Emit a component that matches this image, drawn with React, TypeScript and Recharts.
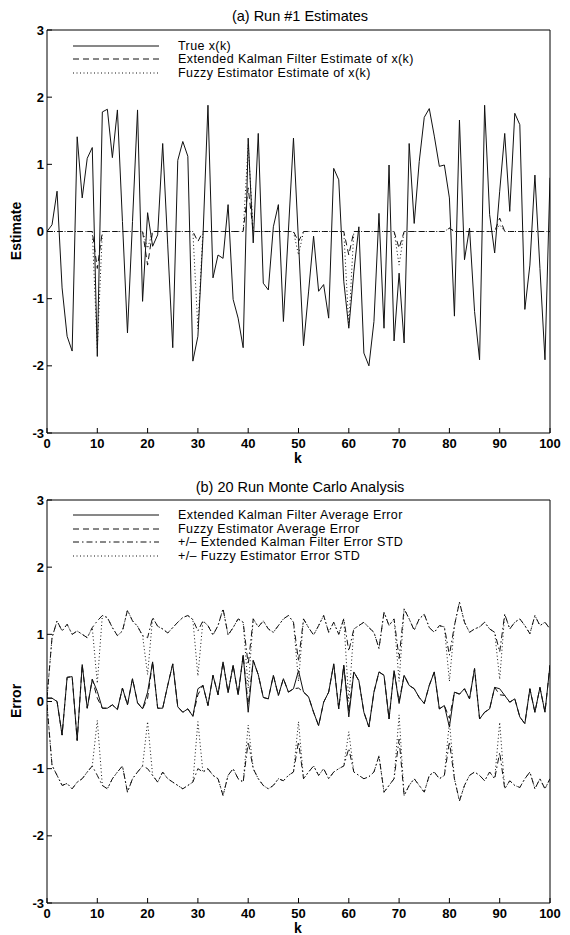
import React from 'react';
import { LineChart, Line, XAxis, YAxis } from 'recharts';

// k axis + y axis ticks
const K_TICKS = [0, 10, 20, 30, 40, 50, 60, 70, 80, 90, 100];
const Y_TICKS = [-3, -2, -1, 0, 1, 2, 3];

// (a) run #1 estimates, k = 0..100
const trueX = [
  0.0, 0.1, 0.6, -0.84, -1.56, -1.78, 1.41, 0.5, 1.09, 1.25,
  -1.86, 1.78, 1.82, 1.1, 1.81, 0.15, -1.51, 0.15, 1.81, -1.04,
  0.28, -0.22, -0.05, 1.31, -0.2, -1.73, 1.06, 1.34, 1.12, -1.93,
  -1.56, -0.1, 1.88, -0.69, -0.35, -0.4, 0.4, -1.01, -1.29, -1.73,
  1.39, -0.17, 1.46, -0.77, -0.87, 0.07, 0.4, -1.34, 0.02, 1.39,
  -0.15, -1.7, -0.9, -0.07, -0.89, -0.79, -1.29, 0.94, 0.77, -0.74,
  -1.44, -0.6, 0.07, -1.81, -2.0, -1.34, 0.27, -1.44, 0.99, -1.63,
  -0.62, -1.66, 1.31, 0.12, 1.04, 1.7, 1.83, 1.42, 0.97, 0.99,
  0.5, -1.26, 1.66, -0.42, 0.05, -1.19, -1.91, 1.88, 0.25, -0.32,
  0.6, 1.46, 0.3, 1.76, 1.59, -1.16, -0.5, 0.84, -0.55, -1.91,
  0.8,
];

const ekfEstimate = [
  0, 0, 0, 0, 0, 0, 0, 0, 0, 0,
  -0.55, 0, 0, 0, 0, 0, 0, 0, 0, 0,
  -0.5, 0, 0, 0, 0, 0, 0, 0, 0, 0,
  -0.15, 0, 0, 0, 0, 0, 0, 0, 0, 0,
  0.65, 0, 0, 0, 0, 0, 0, 0, 0, 0,
  -0.15, 0, 0, 0, 0, 0, 0, 0, 0, 0,
  -0.35, 0, 0, 0, 0, 0, 0, 0, 0, 0,
  -0.25, 0, 0, 0, 0, 0, 0, 0, 0, 0,
  0.05, 0, 0, 0, 0, 0, 0, 0, 0, 0,
  0.2, 0, 0, 0, 0, 0, 0, 0, 0, 0,
  0,
];

const fuzzyEstimate = [
  0, 0, 0, 0, 0, 0, 0, 0, 0, 0,
  -1.75, 0, 0, 0, 0, 0, 0, 0, 0, 0,
  -0.25, 0, 0, 0, 0, 0, 0, 0, 0, 0,
  -1.45, 0, 0, 0, 0, 0, 0, 0, 0, 0,
  1.3, 0, 0, 0, 0, 0, 0, 0, 0, 0,
  -0.35, 0, 0, 0, 0, 0, 0, 0, 0, 0,
  -1.4, 0, 0, 0, 0, 0, 0, 0, 0, 0,
  -0.5, 0, 0, 0, 0, 0, 0, 0, 0, 0,
  0.05, 0, 0, 0, 0, 0, 0, 0, 0, 0,
  0.1, 0, 0, 0, 0, 0, 0, 0, 0, 0,
  0,
];

// (b) 20 run monte carlo analysis
const ekfAvgError = [
  0.05, 0.05, 0.0, -0.5, 0.36, 0.37, -0.58, 0.55, -0.1, 0.33,
  0.15, -0.1, -0.1, -0.05, -0.12, 0.2, -0.05, 0.34, -0.02, -0.11,
  0.14, 0.59, -0.1, -0.1, 0.24, 0.56, -0.08, -0.16, -0.11, -0.22,
  0.19, 0.24, -0.06, 0.39, 0.1, 0.59, 0.13, 0.54, 0.1, 0.69,
  -0.16, 0.61, 0.4, 0.06, 0.04, 0.39, 0.09, 0.34, 0.14, 0.19,
  0.46, 0.14, 0.07, -0.16, -0.36, -0.01, 0.14, 0.56, -0.11, 0.54,
  -0.23, 0.44, 0.31, -0.16, -0.38, 0.14, 0.44, 0.39, -0.26, 0.46,
  -0.03, 0.39, 0.24, 0.19, 0.06, -0.03, 0.24, 0.44, -0.11, -0.06,
  -0.38, 0.14, 0.11, 0.19, 0.04, 0.49, -0.26, -0.16, -0.11, 0.21,
  0.19, 0.09, -0.01, 0.04, -0.23, -0.33, 0.19, -0.16, 0.21, -0.16,
  0.54,
];

const fuzzyAvgError = [
  0.05, 0.05, 0.0, -0.5, 0.36, 0.37, -0.58, 0.55, -0.1, 0.33,
  0.05, -0.1, -0.1, -0.05, -0.12, 0.2, -0.05, 0.34, -0.02, -0.11,
  0.05, 0.59, -0.1, -0.1, 0.24, 0.56, -0.08, -0.16, -0.11, -0.22,
  0.1, 0.24, -0.06, 0.39, 0.1, 0.59, 0.13, 0.54, 0.1, 0.69,
  -0.05, 0.61, 0.4, 0.06, 0.04, 0.39, 0.09, 0.34, 0.14, 0.19,
  0.2, 0.14, 0.07, -0.16, -0.36, -0.01, 0.14, 0.56, -0.11, 0.54,
  -0.15, 0.44, 0.31, -0.16, -0.38, 0.14, 0.44, 0.39, -0.26, 0.46,
  0.0, 0.39, 0.24, 0.19, 0.06, -0.03, 0.24, 0.44, -0.11, -0.06,
  -0.25, 0.14, 0.11, 0.19, 0.04, 0.49, -0.26, -0.16, -0.11, 0.21,
  0.1, 0.09, -0.01, 0.04, -0.23, -0.33, 0.19, -0.16, 0.21, -0.16,
  0.54,
];

const ekfStdUpper = [
  0.05, 0.95, 1.2, 1.05, 1.15, 1.0, 1.05, 1.0, 0.95, 1.1,
  1.2, 1.28, 1.25, 1.1, 0.98, 1.05, 1.36, 1.2, 1.12, 0.98,
  0.95, 1.25, 1.12, 1.08, 1.02, 1.1, 1.18, 1.25, 1.28, 1.22,
  1.05, 1.2, 1.13, 0.99, 1.13, 1.38, 0.99, 1.1, 1.23, 1.18,
  0.55, 1.23, 1.11, 1.2, 1.08, 1.03, 1.13, 1.23, 1.28, 1.18,
  0.6, 1.23, 1.1, 0.99, 1.13, 1.28, 1.03, 1.18, 1.0, 1.23,
  0.75, 1.08, 1.13, 1.18, 1.1, 1.03, 0.79, 1.33, 1.13, 1.23,
  0.64, 1.38, 1.23, 1.06, 1.23, 1.3, 1.1, 1.03, 1.13, 1.11,
  0.69, 1.13, 1.48, 1.18, 1.03, 1.08, 1.11, 1.18, 1.08, 1.03,
  0.74, 1.3, 1.08, 1.18, 1.23, 1.13, 1.01, 1.28, 1.13, 1.18,
  1.08,
];

const ekfStdLower = [
  -0.05, -0.95, -1.1, -1.25, -1.22, -1.3, -1.2, -1.15, -1.05, -0.96,
  -1.1, -1.25, -1.3, -1.15, -1.05, -0.96, -1.35, -1.15, -1.05, -0.96,
  -1.0, -1.1, -1.2, -1.05, -1.15, -1.2, -1.25, -1.3, -1.25, -1.2,
  -1.0, -1.05, -1.0, -1.1, -1.15, -1.4, -1.1, -1.0, -1.15, -1.2,
  -0.6, -1.0, -1.15, -1.25, -1.3, -1.25, -1.15, -1.18, -1.1, -1.05,
  -0.6, -1.15, -1.05, -0.96, -1.1, -1.0, -1.15, -1.05, -1.0, -0.96,
  -0.7, -1.05, -1.1, -1.15, -1.12, -1.05, -0.81, -1.35, -1.25, -1.15,
  -0.56, -1.4, -1.25, -1.15, -1.25, -1.35, -1.1, -1.05, -1.15, -1.1,
  -0.6, -1.15, -1.48, -1.25, -1.1, -1.05, -1.1, -1.18, -1.05, -1.15,
  -0.76, -1.3, -1.18, -1.25, -1.28, -1.15, -1.05, -1.3, -1.15, -1.3,
  -1.15,
];

const fuzzyStdUpper = [
  0.05, 0.95, 1.2, 1.05, 1.15, 1.0, 1.05, 1.0, 0.95, 1.1,
  0.27, 1.28, 1.25, 1.1, 0.98, 1.05, 1.36, 1.2, 1.12, 0.98,
  0.4, 1.25, 1.12, 1.08, 1.02, 1.1, 1.18, 1.25, 1.28, 1.22,
  0.38, 1.2, 1.13, 0.99, 1.13, 1.38, 0.99, 1.1, 1.23, 1.18,
  0.2, 1.23, 1.11, 1.2, 1.08, 1.03, 1.13, 1.23, 1.28, 1.18,
  0.3, 1.23, 1.1, 0.99, 1.13, 1.28, 1.03, 1.18, 1.0, 1.23,
  0.0, 1.08, 1.13, 1.18, 1.1, 1.03, 0.79, 1.33, 1.13, 1.23,
  0.3, 1.38, 1.23, 1.06, 1.23, 1.3, 1.1, 1.03, 1.13, 1.11,
  0.3, 1.13, 1.48, 1.18, 1.03, 1.08, 1.11, 1.18, 1.08, 1.03,
  0.33, 1.3, 1.08, 1.18, 1.23, 1.13, 1.01, 1.28, 1.13, 1.18,
  1.08,
];

const fuzzyStdLower = [
  -0.05, -0.95, -1.1, -1.25, -1.22, -1.3, -1.2, -1.15, -1.05, -0.96,
  -0.28, -1.25, -1.3, -1.15, -1.05, -0.96, -1.35, -1.15, -1.05, -0.96,
  -0.3, -1.1, -1.2, -1.05, -1.15, -1.2, -1.25, -1.3, -1.25, -1.2,
  -0.3, -1.05, -1.0, -1.1, -1.15, -1.4, -1.1, -1.0, -1.15, -1.2,
  -0.35, -1.0, -1.15, -1.25, -1.3, -1.25, -1.15, -1.18, -1.1, -1.05,
  -0.3, -1.15, -1.05, -0.96, -1.1, -1.0, -1.15, -1.05, -1.0, -0.96,
  -0.45, -1.05, -1.1, -1.15, -1.12, -1.05, -0.81, -1.35, -1.25, -1.15,
  -0.2, -1.4, -1.25, -1.15, -1.25, -1.35, -1.1, -1.05, -1.15, -1.1,
  -0.3, -1.15, -1.48, -1.25, -1.1, -1.05, -1.1, -1.18, -1.05, -1.15,
  -0.31, -1.3, -1.18, -1.25, -1.28, -1.15, -1.05, -1.3, -1.15, -1.3,
  -1.15,
];

const FONT = "'Liberation Sans', Arial, Helvetica, sans-serif";
const INK = '#111';
const SOLID = undefined;
const DASHED = '6 4';
const DOTTED = '1 2.5';
const DASHDOT = '6 3 1.5 3';

const runData = trueX.map((v, k) => ({
  k,
  trueX: v,
  ekf: ekfEstimate[k],
  fuzzy: fuzzyEstimate[k],
}));

const mcData = ekfAvgError.map((v, k) => ({
  k,
  ekfAvg: v,
  fuzzyAvg: fuzzyAvgError[k],
  ekfUp: ekfStdUpper[k],
  ekfLo: ekfStdLower[k],
  fuzzyUp: fuzzyStdUpper[k],
  fuzzyLo: fuzzyStdLower[k],
}));

const tickStyle = { fontSize: 13, fill: '#000', fontFamily: FONT, fontWeight: 'bold' };
const lineStroke = { stroke: '#000', strokeWidth: 1 };

/**
 * Box frame: matlab-style inward ticks on all four sides.
 * Plot area is margin + axis size, so both charts use
 * bottom axis 30, top axis 1, left axis 40, right axis 1.
 */
function frameAxes() {
  return [
    <XAxis
      key="xb"
      dataKey="k"
      type="number"
      domain={[0, 100]}
      ticks={K_TICKS}
      interval={0}
      height={30}
      tickSize={-5}
      tickMargin={11}
      axisLine={lineStroke}
      tickLine={lineStroke}
      tick={tickStyle}
      allowDataOverflow
    />,
    <XAxis
      key="xt"
      xAxisId="t"
      orientation="top"
      type="number"
      domain={[0, 100]}
      ticks={K_TICKS}
      interval={0}
      height={1}
      tickSize={-5}
      axisLine={lineStroke}
      tickLine={lineStroke}
      tick={false}
      allowDataOverflow
    />,
    <YAxis
      key="yl"
      type="number"
      domain={[-3, 3]}
      ticks={Y_TICKS}
      interval={0}
      width={40}
      tickSize={-5}
      tickMargin={8}
      axisLine={lineStroke}
      tickLine={lineStroke}
      tick={tickStyle}
      allowDataOverflow
    />,
    <YAxis
      key="yr"
      yAxisId="r"
      orientation="right"
      type="number"
      domain={[-3, 3]}
      ticks={Y_TICKS}
      interval={0}
      width={1}
      tickSize={-5}
      axisLine={lineStroke}
      tickLine={lineStroke}
      tick={false}
      allowDataOverflow
    />,
  ];
}

function series(key: string, dash?: string) {
  return (
    <Line
      key={key}
      type="linear"
      dataKey={key}
      stroke={INK}
      strokeWidth={1}
      strokeDasharray={dash}
      dot={false}
      activeDot={false}
      isAnimationActive={false}
    />
  );
}

function Txt({ x, y, children, size = 12.5, anchor = 'middle', rotate = false, bold = false }: any) {
  const tx = anchor === 'middle' ? '-50%' : '0';
  return (
    <div
      style={{
        position: 'absolute',
        left: x,
        top: y,
        transform: `translate(${tx}, -50%)${rotate ? ' rotate(-90deg)' : ''}`,
        fontFamily: FONT,
        fontSize: size,
        fontWeight: bold ? 'bold' : 'normal',
        letterSpacing: anchor === 'start' ? 0.4 : 0,
        color: '#000',
        whiteSpace: 'nowrap',
        lineHeight: 1,
      }}
    >
      {children}
    </div>
  );
}

function LegendRow({ y, dash, label }: { y: number; dash?: string; label: string }) {
  return (
    <>
      <svg style={{ position: 'absolute', left: 73, top: y - 2 }} width={88} height={4}>
        <line x1={0} y1={2} x2={86} y2={2} stroke={INK} strokeWidth={1} strokeDasharray={dash} />
      </svg>
      <Txt x={178} y={y} anchor="start">{label}</Txt>
    </>
  );
}

export default function App(): React.ReactElement {
  return (
    <div
      style={{
        position: 'absolute',
        left: 0,
        top: 0,
        width: 570,
        height: 935,
        background: '#fff',
        overflow: 'hidden',
      }}
    >
      <div style={{ position: 'absolute', left: 0, top: 0 }}>
        <LineChart
          width={570}
          height={470}
          data={runData}
          margin={{ top: 29, right: 19, bottom: 7, left: 7 }}
        >
          {frameAxes()}
          {series('fuzzy', DOTTED)}
          {series('ekf', DASHED)}
          {series('trueX', SOLID)}
        </LineChart>
      </div>

      <div style={{ position: 'absolute', left: 0, top: 470 }}>
        <LineChart
          width={570}
          height={465}
          data={mcData}
          margin={{ top: 29, right: 19, bottom: 2, left: 7 }}
        >
          {frameAxes()}
          {series('fuzzyUp', DOTTED)}
          {series('fuzzyLo', DOTTED)}
          {series('ekfUp', DASHDOT)}
          {series('ekfLo', DASHDOT)}
          {series('fuzzyAvg', DASHED)}
          {series('ekfAvg', SOLID)}
        </LineChart>
      </div>

      {/* panel (a) text */}
      <Txt x={300} y={16} size={14.5}>(a) Run #1 Estimates</Txt>
      <LegendRow y={45.5} dash={SOLID} label="True x(k)" />
      <LegendRow y={59} dash={DASHED} label="Extended Kalman Filter Estimate of x(k)" />
      <LegendRow y={72.5} dash={DOTTED} label="Fuzzy Estimator Estimate of x(k)" />
      <Txt x={298} y={458} size={14} bold>k</Txt>
      <Txt x={16} y={231} size={14} rotate bold>Estimate</Txt>

      {/* panel (b) text */}
      <Txt x={300} y={487} size={14.5}>(b) 20 Run Monte Carlo Analysis</Txt>
      <LegendRow y={515} dash={SOLID} label="Extended Kalman Filter Average Error" />
      <LegendRow y={528.5} dash={DASHED} label="Fuzzy Estimator Average Error" />
      <LegendRow y={542} dash={DASHDOT} label="+/– Extended Kalman Filter Error STD" />
      <LegendRow y={555.5} dash={DOTTED} label="+/– Fuzzy Estimator Error STD" />
      <Txt x={298} y={928} size={14} bold>k</Txt>
      <Txt x={16} y={701} size={14} rotate bold>Error</Txt>
    </div>
  );
}
